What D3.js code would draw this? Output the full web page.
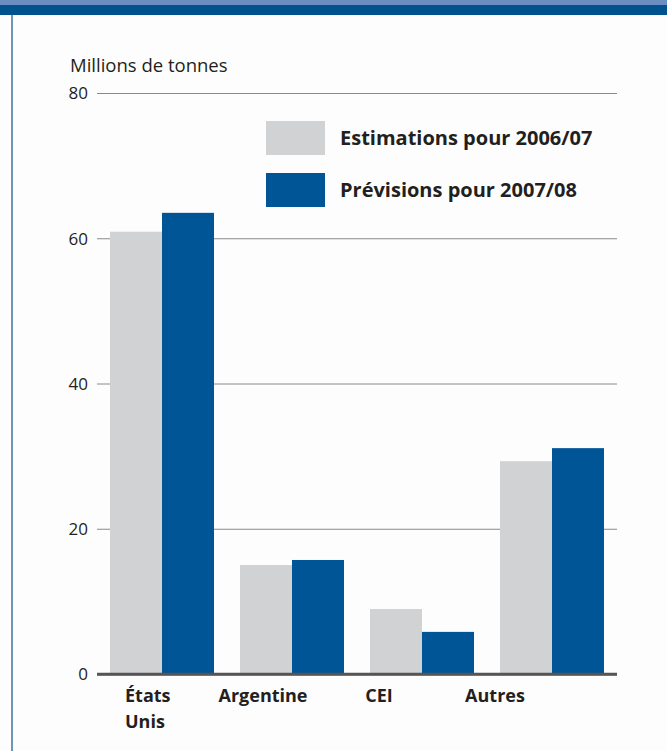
<!DOCTYPE html>
<html><head><meta charset="utf-8">
<script src="https://cdn.jsdelivr.net/npm/d3@7"></script>
<style>
html,body{margin:0;padding:0;background:#fff;}
svg{display:block;font-family:"Open Sans",sans-serif;}
</style></head>
<body>
<script>
const categories = ["États Unis", "Argentine", "CEI", "Autres"];
const seriesNames = ["Estimations pour 2006/07", "Prévisions pour 2007/08"];
const estimations2006 = [60.9, 15.0, 8.95, 29.3];
const previsions2007 = [63.5, 15.7, 5.8, 31.1];
const yTicks = [0, 20, 40, 60, 80];
const yTitle = "Millions de tonnes";
const colors = ["#d1d2d4", "#005596"];

const W = 667, H = 751;
const svg = d3.select("body").append("svg").attr("width", W).attr("height", H);

// frame
svg.append("rect").attr("x",0).attr("y",0).attr("width",W).attr("height",H).attr("fill","#fdfdfd");
svg.append("rect").attr("x",0).attr("y",0).attr("width",W).attr("height",5).attr("fill","#6b8dc0");
svg.append("rect").attr("x",0).attr("y",5).attr("width",W).attr("height",10).attr("fill","#00528f");
svg.append("rect").attr("x",11).attr("y",15).attr("width",2).attr("height",H-15).attr("fill","#6f97b3");

const x0 = 97, x1 = 617, yTop = 93, yBot = 674;
const x = d3.scaleBand().domain(categories).range([x0, x1]).paddingInner(0.2).paddingOuter(0.1);
const xs = d3.scaleBand().domain([0,1]).range([0, x.bandwidth()]);
const y = d3.scaleLinear().domain([0, 80]).range([yBot, yTop]);

// gridlines
const yAxis = d3.axisLeft(y).tickValues(yTicks).tickSize(-(x1 - x0)).tickPadding(9);
const gA = svg.append("g").attr("transform", `translate(${x0},0)`).call(yAxis);
gA.select(".domain").remove();
gA.selectAll(".tick line").attr("stroke", "#8a8a8a").attr("stroke-width", 1);
gA.selectAll(".tick text").attr("fill", "#231f20").style("font-size", "17px")
  .style("font-family", '"Open Sans",sans-serif').attr("dy", "0.35em");
gA.selectAll(".tick").filter(d => d === 0).select("line").attr("stroke", "#555").attr("stroke-width", 2.5);

svg.append("text").attr("x", 70).attr("y", 72).text(yTitle)
  .attr("fill", "#231f20").style("font-size", "18.5px");

// bars
const series = [estimations2006, previsions2007];
series.forEach((vals, si) => {
  svg.append("g").selectAll("rect").data(vals).join("rect")
    .attr("x", (d, i) => x(categories[i]) + xs(si))
    .attr("width", xs.bandwidth())
    .attr("y", d => y(d))
    .attr("height", d => y(0) - y(d))
    .attr("fill", colors[si]);
});
// redraw baseline over bars
svg.append("line").attr("x1", x0).attr("x2", x1).attr("y1", y(0)).attr("y2", y(0))
  .attr("stroke", "#555").attr("stroke-width", 2.5);

// category labels
const lx = d3.scalePoint().domain(categories).range([147, 495]);
categories.forEach(c => {
  const parts = c === "États Unis" ? ["États", "Unis"] : [c];
  const t = svg.append("text").attr("font-weight", "bold").attr("fill", "#231f20")
    .style("font-size", "18px").attr("text-anchor", parts.length > 1 ? "start" : "middle");
  parts.forEach((p, k) => {
    t.append("tspan").attr("x", parts.length > 1 ? lx(c) - 22 : lx(c)).attr("y", 702 + k * 26).text(p);
  });
});

// legend
const lg = svg.append("g");
seriesNames.forEach((s, i) => {
  lg.append("rect").attr("x", 266).attr("y", 121 + i * 52).attr("width", 59).attr("height", 34).attr("fill", colors[i]);
  lg.append("text").attr("x", 340).attr("y", 145 + i * 52).text(s)
    .attr("font-weight", "bold").attr("fill", "#231f20").style("font-size", "20px");
});
</script>
</body></html>
